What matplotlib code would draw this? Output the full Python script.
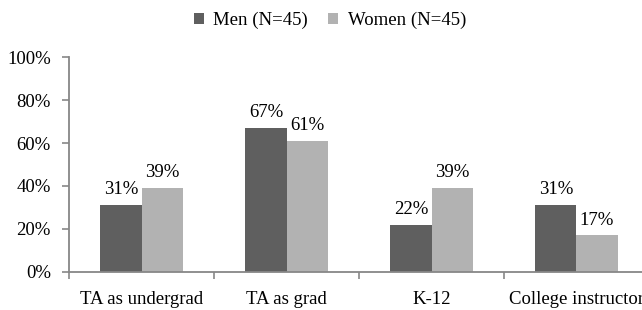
import numpy as np
import matplotlib.pyplot as plt

plt.rcParams['font.family'] = ['Liberation Serif', 'DejaVu Serif']

# datos
categorias = ['TA as undergrad', 'TA as grad', 'K-12', 'College instructor']
hombres = [31, 67, 22, 31]
mujeres = [39, 61, 39, 17]
series = ['Men (N=45)', 'Women (N=45)']
yticks = [0, 20, 40, 60, 80, 100]

color_hombres = '#5f5f5f'
color_mujeres = '#b2b2b2'
color_eje = '#878787'
tam = 13.5

fig = plt.figure(figsize=(6.42, 3.10), dpi=100)
ax = fig.add_axes([0.1075, 0.1226, 0.9034, 0.6935])

x = np.arange(len(categorias))
ancho = 0.283

# barras de cada serie
b1 = ax.bar(x - ancho / 2, hombres, ancho, color=color_hombres, label=series[0])
b2 = ax.bar(x + ancho / 2, mujeres, ancho, color=color_mujeres, label=series[1])

# etiquetas de porcentaje sobre las barras
for barras in (b1, b2):
    for b in barras:
        ax.annotate(f'{b.get_height():.0f}%', (b.get_x() + b.get_width() / 2, b.get_height()),
                    xytext=(0, 5), textcoords='offset points', ha='center', va='bottom',
                    fontsize=tam)

ax.set_xlim(-0.5, len(categorias) - 0.5)
ax.set_ylim(0, 100)
ax.set_yticks(yticks)
ax.set_yticklabels([f'{v}%' for v in yticks], fontsize=tam)

# ticks del eje x en los limites de las categorias
ax.set_xticks(np.arange(len(categorias) + 1) - 0.5)
ax.set_xticklabels([])
ax.set_xticks(x, minor=True)
ax.set_xticklabels(categorias, minor=True, fontsize=tam)
ax.tick_params(axis='x', which='minor', length=0, pad=14)
ax.tick_params(axis='x', which='major', length=5, width=1.2, color=color_eje)
ax.tick_params(axis='y', length=5, width=1.2, color=color_eje, pad=8)

for lado in ['top', 'right']:
    ax.spines[lado].set_visible(False)
for lado in ['left', 'bottom']:
    ax.spines[lado].set_color(color_eje)
    ax.spines[lado].set_linewidth(1.3)

fig.legend(loc='center', bbox_to_anchor=(0.514, 0.935), ncol=2, frameon=False,
           fontsize=tam, handlelength=0.53, handleheight=0.53, handletextpad=0.5,
           columnspacing=1.07)

fig.savefig('out.png', dpi=100)
